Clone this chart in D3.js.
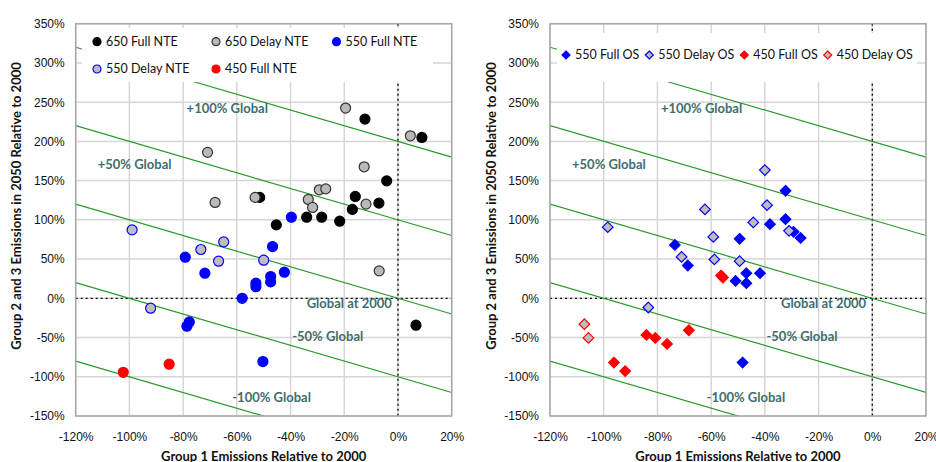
<!DOCTYPE html>
<html lang="en">
<head>
  <meta charset="utf-8">
  <title>Group emissions</title>
  <script src="https://d3js.org/d3.v7.min.js"></script>
  <style>
    body { margin: 0; background: #fff; }
    svg { font-family: Lato, "Open Sans", sans-serif; }
    .tick text { font-size: 12px; fill: #111; }
    .grid line { stroke: #d6d6d6; stroke-width: 1.5px; }
    .frame { fill: none; stroke: #a8a8a8; stroke-width: 1.5px; }
    .zero { stroke: #000; stroke-width: 1.3px; stroke-dasharray: 2,3; }
    .glob { stroke: #2a9a2a; stroke-width: 1.2px; fill: none; }
    .glab { font-size: 13px; font-weight: bold; fill: #3e6e6e; }
    .title { font-size: 13px; font-weight: bold; fill: #111; }
    .leg text { font-size: 12.5px; fill: #111; }
  </style>
</head>
<body>
<script>
// tick values
var xTicks = [-120, -100, -80, -60, -40, -20, 0, 20];
var yTicks = [-150, -100, -50, 0, 50, 100, 150, 200, 250, 300, 350];

// diagonal lines: G1 + G23 = const
var globalSums = [200, 100, 0, -100, -200];
var globalLabels = [
  {text: "+100% Global", x: -78.7, y: 242},
  {text: "+50% Global", x: -111.8, y: 171},
  {text: "Global at 2000", x: -34, y: -6},
  {text: "-50% Global", x: -39.4, y: -48},
  {text: "-100% Global", x: -61.7, y: -126}
];

// left panel (NTE) - [group1 %, group2&3 %]
var full650NTE = [[-12.3,228.4],[8.9,205],[-4.2,149.7],[-51.5,128.6],[-15.9,129.8],[-7.1,121.3],
  [-17,113.3],[-34,103.4],[-28.4,103.4],[-21.7,98.3],[-45.3,93.6],[6.7,-34.3]];
var delay650NTE = [[-19.5,242.5],[4.6,207.1],[-70.9,186],[-12.6,167.6],[-29.3,138.3],[-26.9,139.5],
  [-68.1,122.2],[-53.2,128.6],[-33.4,126],[-31.8,115.8],[-11.9,120],[-7,35]];
var full550NTE = [[-39.7,103.4],[-46.7,66],[-79.2,52.4],[-71.9,32],[-42.3,33.3],[-47.4,27.8],
  [-47.4,20.9],[-52.9,19.3],[-52.9,14.8],[-58,0],[-77.7,-30.1],[-78.6,-35.6],[-50.3,-80.6]];
var delay550NTE = [[-99,87.2],[-64.9,71.9],[-73.4,62.2],[-66.8,47.3],[-50,48.6],[-92.1,-12.6]];
var full450NTE = [[-85.2,-84],[-102.3,-94.3]];

// right panel (OS)
var full550OS = [[-32.3,137],[-32.3,100.9],[-38.1,94.5],[-29.3,84.7],[-26.7,77],[-73.5,68.1],
  [-49.4,75.8],[-68.7,41.8],[-50.9,22.2],[-46.9,32],[-46.9,19.3],[-41.8,32],[-48.3,-81.9]];
var delay550OS = [[-40,163.4],[-62.3,113.3],[-39.2,118.7],[-44.3,96.7],[-31,86],[-98.5,90.7],
  [-59.2,78.3],[-71,52.8],[-58.8,49.5],[-49.4,47.3],[-83.4,-11.7]];
var full450OS = [[-56.3,29],[-55.6,26.5],[-84.1,-46.7],[-80.8,-50.5],[-76.4,-58.2],[-68.3,-40.7],
  [-96.2,-81.9],[-92,-92.8]];
var delay450OS = [[-107.2,-33],[-105.7,-50.5]];

var W = 936, H = 462;
var svg = d3.select("body").append("svg").attr("width", W).attr("height", H);

var panels = [
  {left: 75.7, yTitleX: 21, clip: "c1",
   legend: {x: 82, y: 28, w: 351, h: 54},
   series: [
     {name: "650 Full NTE", data: full650NTE, shape: "circle", fill: "#000", stroke: "#000"},
     {name: "650 Delay NTE", data: delay650NTE, shape: "circle", fill: "#b9b9b9", stroke: "#333"},
     {name: "550 Full NTE", data: full550NTE, shape: "circle", fill: "#0000ff", stroke: "#0000ff"},
     {name: "550 Delay NTE", data: delay550NTE, shape: "circle", fill: "#bdbdbd", stroke: "#0000ff"},
     {name: "450 Full NTE", data: full450NTE, shape: "circle", fill: "#ff0000", stroke: "#ff0000"}
   ],
   legPos: [[97, 41.7], [216, 41.7], [336.5, 41.7], [97, 69], [216, 69]]},
  {left: 550, yTitleX: 496, clip: "c2",
   legend: {x: 557, y: 33, w: 360, h: 49},
   series: [
     {name: "550 Full OS", data: full550OS, shape: "diamond", fill: "#0000ff", stroke: "#0000ff"},
     {name: "550 Delay OS", data: delay550OS, shape: "diamond", fill: "#bdbdbd", stroke: "#0000ff"},
     {name: "450 Full OS", data: full450OS, shape: "diamond", fill: "#ff0000", stroke: "#ff0000"},
     {name: "450 Delay OS", data: delay450OS, shape: "diamond", fill: "#bdbdbd", stroke: "#ff0000"}
   ],
   legPos: [[566, 55], [649.3, 55], [744.3, 55], [827.7, 55]]}
];

var plotTop = 23.7, plotBottom = 416, pw = 376;

function marker(sel, shape, r) {
  if (shape === "circle") {
    sel.append("circle").attr("r", r);
  } else {
    sel.append("path").attr("d", "M0," + (-r) + "L" + r + ",0L0," + r + "L" + (-r) + ",0Z");
  }
}

panels.forEach(function(p) {
  var x = d3.scaleLinear().domain([-120, 20]).range([p.left, p.left + pw]);
  var y = d3.scaleLinear().domain([-150, 350]).range([plotBottom, plotTop]);
  var g = svg.append("g");

  g.append("clipPath").attr("id", p.clip).append("rect")
    .attr("x", p.left).attr("y", plotTop).attr("width", pw).attr("height", plotBottom - plotTop);

  // grid
  var grid = g.append("g").attr("class", "grid");
  grid.selectAll(".gx").data(xTicks).enter().append("line")
    .attr("x1", d => x(d)).attr("x2", d => x(d)).attr("y1", plotTop).attr("y2", plotBottom);
  grid.selectAll(".gy").data(yTicks).enter().append("line")
    .attr("x1", p.left).attr("x2", p.left + pw).attr("y1", d => y(d)).attr("y2", d => y(d));

  // zero lines
  g.append("line").attr("class", "zero")
    .attr("x1", x(0)).attr("x2", x(0)).attr("y1", plotTop).attr("y2", plotBottom);
  g.append("line").attr("class", "zero")
    .attr("x1", p.left).attr("x2", p.left + pw).attr("y1", y(0)).attr("y2", y(0));

  // global lines
  g.append("g").attr("clip-path", "url(#" + p.clip + ")")
    .selectAll("line").data(globalSums).enter().append("line")
    .attr("class", "glob")
    .attr("x1", x(-120)).attr("y1", d => y(d + 120))
    .attr("x2", x(20)).attr("y2", d => y(d - 20));

  g.append("rect").attr("class", "frame")
    .attr("x", p.left).attr("y", plotTop).attr("width", pw).attr("height", plotBottom - plotTop);

  // legend box covers the lines
  g.append("rect").attr("x", p.legend.x).attr("y", p.legend.y)
    .attr("width", p.legend.w).attr("height", p.legend.h).attr("fill", "#fff");

  g.selectAll(".glab").data(globalLabels).enter().append("text")
    .attr("class", "glab")
    .attr("x", d => x(d.x)).attr("y", d => y(d.y)).attr("dy", "0.35em")
    .text(d => d.text);

  // axes
  g.append("g").attr("transform", "translate(0," + plotBottom + ")")
    .call(d3.axisBottom(x).tickValues(xTicks).tickSize(0).tickPadding(16).tickFormat(d => d + "%"))
    .call(a => a.select(".domain").remove());
  g.append("g").attr("transform", "translate(" + p.left + ",0)")
    .call(d3.axisLeft(y).tickValues(yTicks).tickSize(0).tickPadding(11).tickFormat(d => d + "%"))
    .call(a => a.select(".domain").remove());

  g.append("text").attr("class", "title")
    .attr("x", p.left + pw / 2).attr("y", 461).attr("text-anchor", "middle")
    .text("Group 1 Emissions Relative to 2000");
  g.append("text").attr("class", "title")
    .attr("transform", "translate(" + p.yTitleX + "," + 206 + ") rotate(-90)")
    .attr("text-anchor", "middle")
    .text("Group 2 and 3 Emissions in 2050 Relative to 2000");

  // points
  p.series.forEach(function(s) {
    var pts = g.append("g").selectAll("g").data(s.data).enter().append("g")
      .attr("transform", d => "translate(" + x(d[0]) + "," + y(d[1]) + ")")
      .attr("fill", s.fill).attr("stroke", s.stroke).attr("stroke-width", 1.2);
    marker(pts, s.shape, s.shape === "circle" ? 5 : 5.3);
  });

  // legend
  var leg = g.append("g").attr("class", "leg");
  p.series.forEach(function(s, i) {
    var it = leg.append("g").attr("transform", "translate(" + p.legPos[i][0] + "," + p.legPos[i][1] + ")");
    var m = it.append("g").attr("fill", s.fill).attr("stroke", s.stroke).attr("stroke-width", 1.2);
    marker(m, s.shape, 4);
    it.append("text").attr("x", 9).attr("dy", "0.35em").text(s.name);
  });
});
</script>
</body>
</html>
